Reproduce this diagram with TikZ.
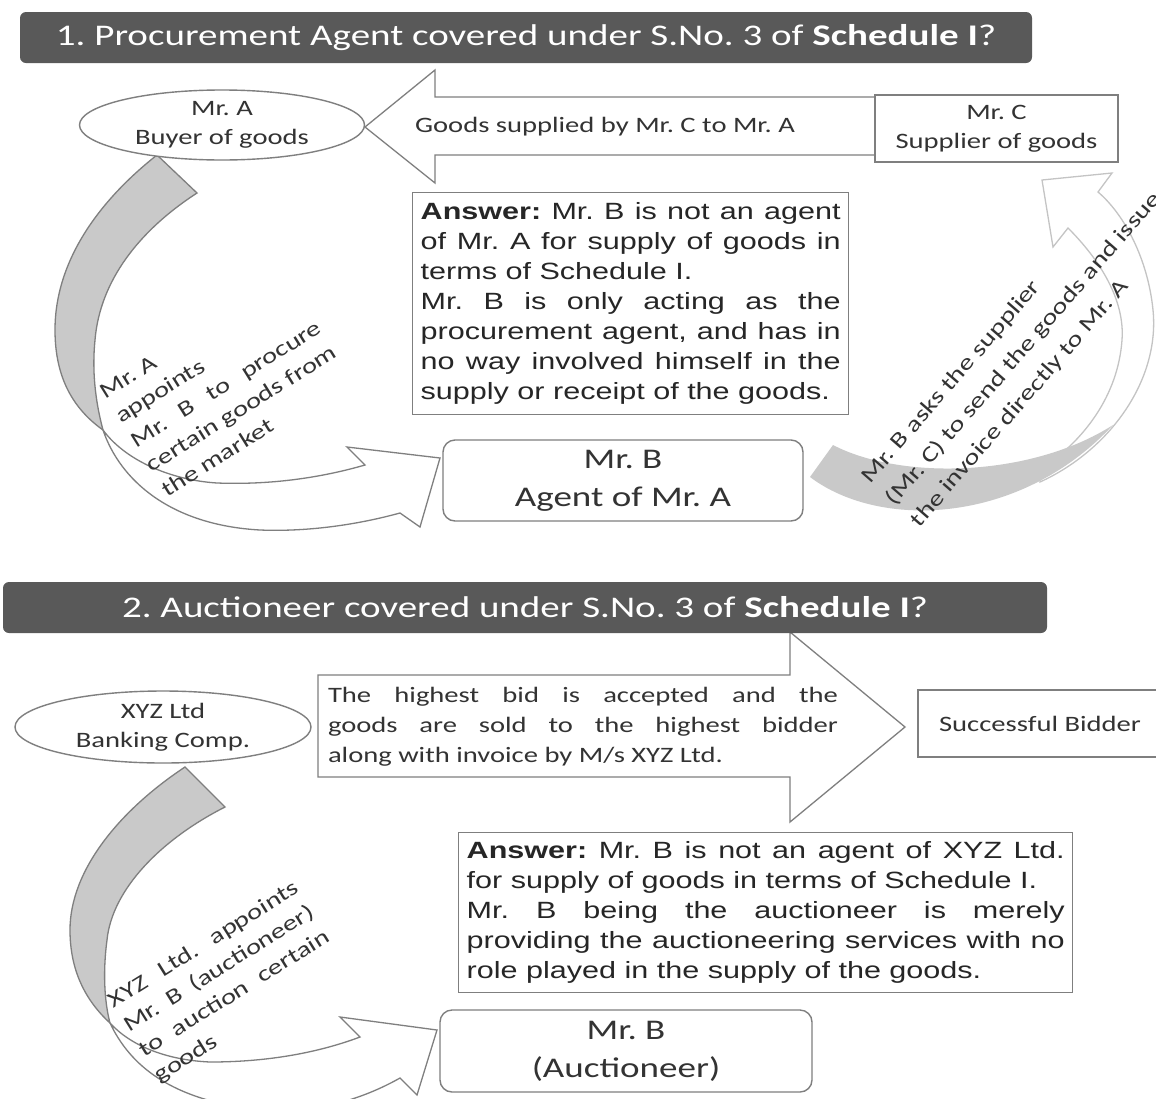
\documentclass[tikz,border=0pt]{standalone}
\usepackage{fontspec}
\setmainfont{Carlito}[FakeStretch=1.3]
\newfontfamily\arialfont{Liberation Sans}[FakeStretch=1.3]
\usetikzlibrary{shapes.geometric}
\definecolor{hdrgray}{HTML}{595959}
\definecolor{bandgray}{HTML}{C9C9C9}
\definecolor{linegray}{HTML}{7F7F7F}
\definecolor{lightline}{HTML}{C4C4C4}
\definecolor{txtgray}{HTML}{333333}
\frenchspacing
\begin{document}
\begin{tikzpicture}[x=1pt,y=-1pt,
  hdr/.style={fill=hdrgray, rounded corners=6pt, text=white, inner sep=0pt, font=\frenchspacing\fontsize{30}{36}\selectfont},
  ell/.style={ellipse, draw=linegray, line width=1.4pt, fill=white, inner sep=0pt, align=center, text=txtgray, font=\frenchspacing\fontsize{22}{29}\selectfont},
  box/.style={rectangle, draw=linegray, line width=1.4pt, fill=white, inner sep=0pt, align=center, text=txtgray, font=\frenchspacing\fontsize{22}{29}\selectfont},
  bbox/.style={rectangle, rounded corners=12pt, draw=linegray, line width=1.4pt, fill=white, inner sep=0pt, align=center, text=txtgray, font=\frenchspacing\fontsize{28.5}{38}\selectfont},
  ans/.style={rectangle, draw=linegray, line width=1.4pt, fill=white, inner xsep=8pt, inner ysep=10pt, align=justify, text=black!85, font=\frenchspacing\arialfont\fontsize{23.5}{30}\selectfont, anchor=north west},
  blk/.style={draw=linegray, line width=1.3pt, fill=white, line join=miter},
  band/.style={draw=linegray, line width=1.3pt, fill=bandgray},
  lblk/.style={draw=lightline, line width=1.3pt, fill=white, line join=miter},
  lens/.style={fill=bandgray},
  rlbl/.style={align=left, inner sep=0pt, text=txtgray, font=\frenchspacing\fontsize{22}{29}\selectfont},
  plain/.style={inner sep=0pt, text=txtgray, font=\frenchspacing\fontsize{22}{29}\selectfont},
]
\useasboundingbox (0,0) rectangle (1156,1098);
\fill[white] (0,0) rectangle (1156,1098);

% ---------- Section 1 block arrows ----------
% big left arrow: Mr. C -> Mr. A
\draw[blk] (875,97) -- (435,97) -- (435,70) -- (365,127) -- (435,183) -- (435,155) -- (875,155) -- cycle;

% left curved arrow: Mr. A -> Mr. B (white front part)
\draw[blk] (103,430) .. controls (120,480) and (170,525) .. (260,530)
  .. controls (310,532) and (360,524) .. (400,513) -- (420,527) -- (440,458) -- (347,447) -- (365,465)
  .. controls (320,478) and (270,485) .. (217,483)
  .. controls (170,480) and (125,460) .. (103,430) -- cycle;
% gray back part
\draw[band] (157,155) .. controls (100,200) and (55,260) .. (55,330)
  .. controls (55,380) and (75,410) .. (103,430)
  .. controls (95,400) and (92,370) .. (95,340)
  .. controls (100,280) and (140,230) .. (197,193) -- cycle;

% right curved arrow: Mr. B -> Mr. C
\draw[lblk] (1040,482) .. controls (1110,450) and (1160,380) .. (1153,310)
  .. controls (1148,260) and (1125,215) .. (1098,192) -- (1112,173) -- (1042,180) -- (1053,247) -- (1068,228)
  .. controls (1100,260) and (1125,300) .. (1122,340)
  .. controls (1118,395) and (1085,440) .. (1040,470) -- cycle;
\fill[lens] (810,477) .. controls (880,530) and (1020,525) .. (1113,425)
  .. controls (1030,478) and (900,480) .. (833,445) -- cycle;

% ---------- Section 2 block arrows ----------
\draw[blk] (318,675) -- (790,675) -- (790,632) -- (905,727) -- (790,822) -- (790,777) -- (318,777) -- cycle;

\draw[blk] (110,1023) .. controls (130,1065) and (170,1100) .. (260,1110)
  .. controls (320,1115) and (370,1095) .. (400,1078) -- (417,1095) -- (437,1030) -- (340,1017) -- (360,1037)
  .. controls (320,1052) and (270,1062) .. (210,1062)
  .. controls (165,1060) and (130,1045) .. (110,1023) -- cycle;
\draw[band] (185,767) .. controls (120,810) and (70,870) .. (70,930)
  .. controls (70,970) and (85,1000) .. (110,1023)
  .. controls (104,1000) and (103,970) .. (107,940)
  .. controls (112,890) and (160,840) .. (225,807) -- cycle;

% ---------- Section 1 nodes ----------
\node[hdr, minimum width=1012pt, minimum height=51pt] (h1) at (526,37.5)
  {1. Procurement Agent covered under S.No. 3 of \textbf{Schedule I}?};
\node[ell, minimum width=285pt, minimum height=70pt] (A) at (222,125) {Mr. A\\Buyer of goods};
\node[plain] (gs) at (605,127) {Goods supplied by Mr. C to Mr. A};
\node[box, minimum width=243pt, minimum height=67pt] (C) at (996.5,128.5) {Mr. C\\Supplier of goods};
\node[ans, text width=420pt] (ans1) at (412,192)
  {\textbf{Answer:} Mr. B is not an agent\break of Mr. A for supply of goods in\break terms of Schedule I.\par
   Mr. B is only acting as the\break procurement agent, and has in\break no way involved himself in the\break supply or receipt of the goods.};
\node[bbox, minimum width=360pt, minimum height=81pt] (B1) at (623,480.5) {Mr. B\\Agent of Mr. A};

\node[rlbl, rotate=32] (l1) at (226,384)
  {Mr. A\\appoints\\\makebox[220pt][s]{Mr. B to procure}\\\makebox[220pt][s]{certain goods from}\\the market};
\node[rlbl, rotate=49, font=\frenchspacing\fontsize{22}{33}\selectfont] (l2) at (1024,349)
  {Mr. B asks the supplier\\(Mr. C) to send the goods and issue\\the invoice directly to Mr. A};

% ---------- Section 2 nodes ----------
\node[hdr, minimum width=1044pt, minimum height=51pt] (h2) at (525,607.5)
  {2. Auctioneer covered under S.No. 3 of \textbf{Schedule I}?};
\node[ell, minimum width=296pt, minimum height=72pt] (X) at (163,727) {XYZ Ltd\\Banking Comp.};
\node[plain, text width=510pt, align=justify, font=\frenchspacing\fontsize{22}{30}\selectfont] (hb) at (583,727)
  {The highest bid is accepted and the\break goods are sold to the highest bidder\break along with invoice by M/s XYZ Ltd.};
\node[box, minimum width=244pt, minimum height=67pt] (S) at (1040,723.5) {Successful Bidder};
\node[ans, text width=598pt, inner ysep=9pt] (ans2) at (458,832)
  {\textbf{Answer:} Mr. B is not an agent of XYZ Ltd.\break for supply of goods in terms of Schedule I.\par
   Mr. B being the auctioneer is merely\break providing the auctioneering services with no\break role played in the supply of the goods.};
\node[bbox, minimum width=372pt, minimum height=82pt] (B2) at (626,1051) {Mr. B\\(Auctioneer)};

\node[rlbl, rotate=32] (l3) at (227,982)
  {\makebox[220pt][s]{XYZ Ltd. appoints}\\\makebox[220pt][s]{Mr. B (auctioneer)}\\\makebox[220pt][s]{to auction certain}\\goods};
\end{tikzpicture}
\end{document}
